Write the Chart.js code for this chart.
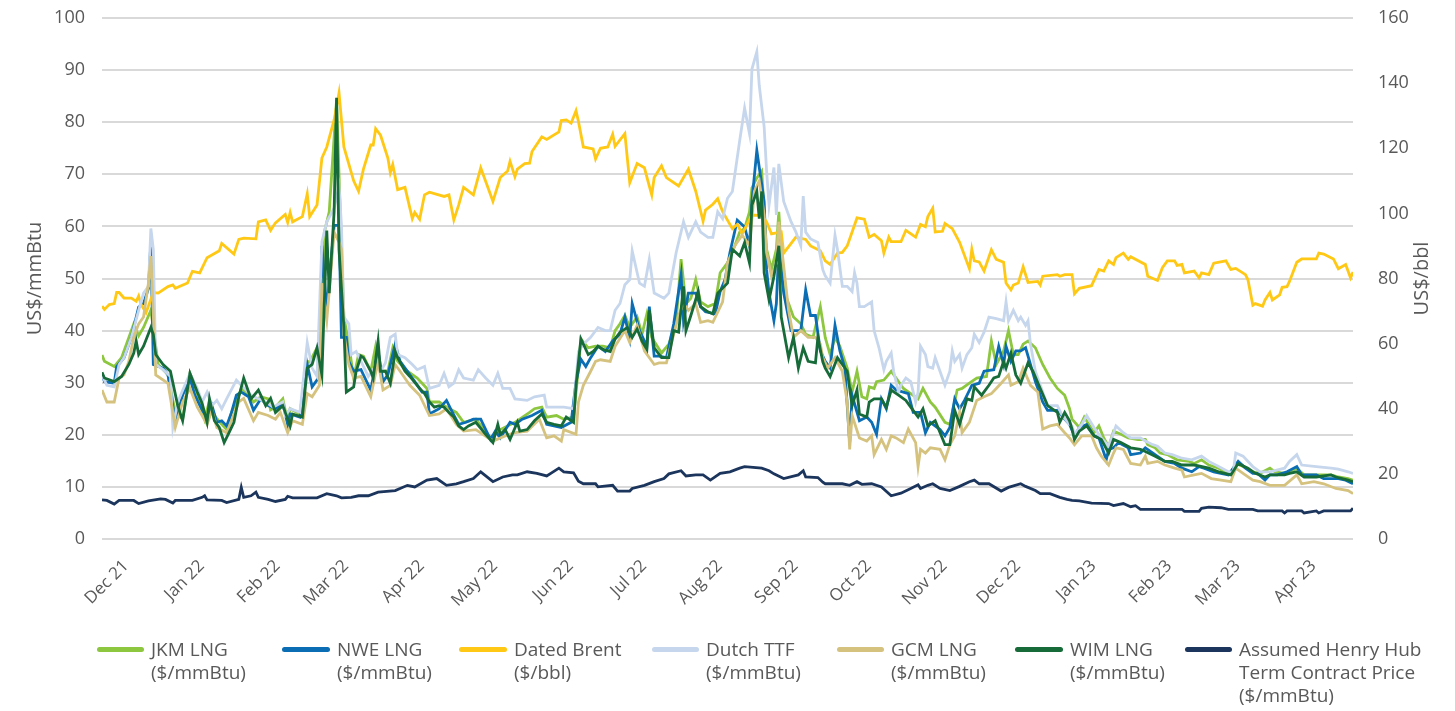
<!DOCTYPE html>
<html><head><meta charset="utf-8">
<script src="https://cdn.jsdelivr.net/npm/chart.js@4.4.1/dist/chart.umd.min.js"></script>
<style>
html,body{margin:0;padding:0;background:#fff;}
#wrap{position:relative;width:1455px;height:711px;overflow:hidden;font-family:"Open Sans",sans-serif;}
canvas{position:absolute;left:0;top:0;}
.lg{position:absolute;color:#595959;font-size:19px;line-height:23px;white-space:nowrap;}
.sw{position:absolute;height:5px;border-radius:3px;}
</style></head><body>
<div id="wrap"><canvas id="c" width="1455" height="711"></canvas><div id="legend"></div></div>
<script>
// ---- x axis: days since 1 Dec 2021; tick labels at month starts ----
const monthDays = [0,31,62,90,121,151,182,212,243,274,304,335,365,396,427,455,486];
const monthLabels = ['Dec 21','Jan 22','Feb 22','Mar 22','Apr 22','May 22','Jun 22','Jul 22','Aug 22','Sep 22','Oct 22','Nov 22','Dec 22','Jan 23','Feb 23','Mar 23','Apr 23'];
const lastDay = 512;

// ---- series: [day, value] ----
const jkm = [[0,35.3],[1,34.1],[5,33.1],[8,34.8],[11,38.7],[13,41.3],[15,39],[17,40.6],[20,43.9],[23,33.5],[27,31.5],[30,24.3],[33,23],[36,31.8],[38,29.5],[40,26.3],[42,23],[44,26.5],[46,23.7],[49,22],[51,21],[53,24.3],[55,26.3],[57,28.9],[60,27.6],[62,26.3],[65,27.3],[68,26.9],[69,24.8],[71,25.3],[74,26.9],[76,22.4],[77,25],[81,24],[84,34.1],[85,34],[88,36.7],[89,31.5],[91,58.9],[93,62.8],[96,84.3],[97,70],[99,42.6],[101,37.4],[103,30.9],[105,35.4],[107,35.1],[110,32.2],[112,37],[114,32.2],[117,32.2],[119,36.7],[121,34.1],[125,32.2],[129,30.9],[133,28.9],[134,26.3],[138,26.3],[141,25.3],[145,24.3],[148,22.4],[153,23],[159,19.4],[163,21],[169,22.4],[175,24.3],[177,25],[180,25.3],[182,23.4],[186,23.7],[189,23],[193,23.4],[195,32.8],[196,38.4],[199,36.7],[202,37],[205,37],[208,36.7],[210,40],[212,41.3],[214,42.9],[216,40.6],[219,42.6],[221,39.3],[223,43.2],[225,38.7],[229,35.7],[232,37.4],[235,41.9],[237,53.7],[239,45.2],[241,46.2],[243,49.8],[245,45.5],[248,44.6],[251,45.2],[253,51.1],[256,53],[259,56.3],[261,58.9],[263,59.6],[265,62.8],[266,67.4],[268,69.3],[270,70.6],[272,55.6],[274,51.7],[276,55.6],[277,62.8],[279,47.8],[283,42.6],[286,41.3],[288,39.3],[291,38.7],[294,44.6],[296,38.7],[298,35.4],[300,38.7],[302,37],[305,32.8],[307,28.2],[309,32.2],[311,27.3],[313,26.9],[314,29.2],[316,28.9],[317,30.2],[320,30.5],[323,32.2],[325,30.9],[328,28.9],[331,27.9],[334,26.9],[336,28.9],[339,26.3],[341,25.3],[345,22.4],[347,22],[348,24.3],[350,28.6],[352,28.9],[355,29.9],[358,30.9],[362,31.2],[364,38],[366,33.5],[369,36.1],[371,40],[373,35.4],[375,35.4],[377,37.4],[379,38],[382,36.7],[385,33.5],[388,30.9],[391,28.9],[394,27.6],[396,25],[397,23],[400,21.4],[402,23.4],[406,20.4],[408,21.7],[410,19.4],[412,17.7],[414,20.7],[417,20.1],[420,19.4],[424,19.1],[427,19.1],[428,18.1],[431,17.5],[433,16.5],[436,16.2],[440,15.2],[445,14.9],[447,14.5],[450,15.2],[453,14.2],[457,13.6],[459,12.9],[462,12.6],[464,14.5],[467,13.9],[471,12.9],[474,12.6],[478,13.6],[480,12.9],[484,12.6],[486,12.9],[489,13.6],[492,12.3],[497,12.3],[503,12.3],[506,11.9],[510,11.6],[512,11.3]];

const nwe = [[0,31.8],[1,30.2],[5,29.9],[6,33.1],[9,34.8],[12,38.7],[15,44.5],[17,45.2],[19,48.1],[20,57],[21,33.5],[25,32.8],[27,31.5],[30,22.4],[33,27.6],[36,30.9],[38,27.6],[41,24.7],[43,23.4],[45,25.6],[47,22.4],[49,22.7],[51,21.7],[53,24.3],[55,27.6],[57,28.2],[60,27.3],[62,24.7],[65,26.9],[68,25.6],[71,25],[74,26],[76,22],[77,24],[81,23.4],[84,33.5],[86,29.2],[89,31.2],[90,56.3],[92,43.9],[95,60.2],[97,60.2],[98,38.7],[100,38.7],[101,34.1],[103,32.2],[106,32.5],[107,31.5],[110,28.6],[113,36],[115,30.2],[117,31.5],[120,37.4],[122,34.1],[125,32.2],[128,30.2],[131,28.2],[133,28.2],[134,24],[138,25],[141,26.6],[143,24.7],[146,22],[149,22.4],[152,23],[155,23],[159,19.1],[161,20.7],[163,19.4],[167,22.4],[169,22],[172,23],[176,23.7],[180,24.7],[182,22],[188,21.4],[192,22.4],[194,30.2],[196,34.5],[198,33.1],[200,34.8],[203,37],[206,36],[209,38],[212,39.3],[214,42.6],[216,38.5],[217,45.2],[220,40],[223,37],[224,44.6],[226,35.1],[228,35.1],[231,34.8],[234,41.3],[237,50.7],[238,41.9],[240,47.2],[243,47.2],[245,44.6],[247,43.6],[251,43.2],[253,47.5],[255,49.8],[257,55],[260,61.2],[263,59.9],[265,56.3],[266,64.8],[268,74.6],[269,71.3],[271,64.8],[272,51.7],[273,47.2],[275,41.9],[276,45.2],[277,55.6],[279,47.2],[282,40],[284,40],[286,40],[288,47.8],[290,42.9],[292,42.9],[294,36.1],[296,34.1],[298,32.8],[300,41],[302,36.1],[304,32.8],[306,18.5],[307,27.6],[310,22.7],[313,23.4],[315,22.4],[317,20.1],[319,26.9],[321,25],[323,29.5],[325,28.6],[328,28.2],[330,27.9],[332,24.3],[335,24.3],[337,20.4],[339,22.4],[343,21],[345,19.8],[347,21.4],[349,26.9],[351,25],[353,26.6],[356,29.5],[359,29.9],[361,32.2],[365,32.5],[367,37],[369,33.5],[370,37],[372,34.1],[374,36.1],[376,36.1],[378,36.7],[380,33.5],[382,30.2],[385,26.3],[387,24.7],[391,24.7],[394,23],[396,22],[398,19.8],[400,21.4],[403,22],[406,19.8],[408,19.4],[411,15.2],[412,17.2],[414,17.5],[416,18.5],[420,17.5],[421,16.2],[425,16.5],[427,17.5],[431,16.2],[435,14.9],[439,14.5],[442,13.6],[446,12.9],[449,13.9],[451,13.6],[455,12.9],[461,12.3],[465,14.9],[468,13.6],[471,12.6],[473,12.6],[476,11.3],[478,12.3],[481,12.3],[485,12.9],[489,13.9],[491,12.3],[497,12.3],[500,11.6],[506,11.6],[509,11.3],[512,10.6]];

const brent = [[0,71.5],[1,70.5],[3,72],[5,72.3],[6,75.7],[7,75.7],[9,74],[12,74],[14,73],[15,74.6],[16,72],[18,69.5],[21,75.7],[23,75.5],[27,77.5],[29,78],[30,77],[35,78.6],[37,82.2],[40,81.7],[43,86.4],[48,88.5],[49,90.8],[54,87.5],[56,92],[58,92.4],[63,92.2],[64,97.4],[67,98],[69,94.8],[71,97.1],[75,99.7],[76,97.2],[77,100.3],[78,97.4],[82,99],[84,106],[85,99],[88,102.6],[90,117],[92,120.4],[95,128.7],[97,137],[99,120.4],[103,110],[105,106.8],[107,113.6],[110,121],[111,121],[112,126],[114,124],[117,117],[118,112.5],[119,115],[121,107.3],[124,108],[127,98.4],[128,100.3],[130,98.2],[132,105.7],[134,106.5],[140,105.2],[142,105.7],[144,98],[146,102.6],[148,108],[152,105.7],[155,114],[160,103.7],[163,111],[166,113],[167,116],[169,111.3],[170,113.6],[173,115.3],[175,115.4],[176,119],[180,123.5],[182,122.7],[187,125],[188,128.5],[190,128.7],[192,127.7],[194,131.5],[195,128.2],[197,120.4],[201,119.8],[202,116.7],[204,120],[207,120.4],[209,124.3],[210,120.6],[214,124.5],[216,109.4],[219,115.3],[222,114],[224,108.4],[225,105.7],[226,111],[229,114.6],[231,111],[236,108.4],[240,113.6],[243,106.8],[246,97.6],[247,101],[250,102.8],[252,104.5],[254,100.5],[258,95.3],[260,96.6],[262,93.7],[266,99.5],[270,99.3],[272,97.4],[274,93.7],[278,94.3],[279,87.8],[284,92.7],[288,92],[290,90],[294,88.5],[296,85.4],[298,84.3],[301,87.8],[303,88],[305,90],[307,94.3],[309,98.6],[312,98.2],[314,92.7],[316,93.5],[319,91.6],[320,87.8],[322,92.7],[323,91.3],[327,91.3],[329,94.8],[333,92.7],[335,96.6],[337,95.9],[338,99],[340,101.6],[341,94.3],[344,94.5],[345,96.9],[348,95.3],[351,91.1],[355,83],[356,89],[357,85.4],[359,85.1],[361,82.3],[364,88.8],[366,85.9],[369,85],[370,78.6],[372,76.5],[373,78],[375,78.6],[377,83.6],[379,78.8],[383,79.1],[384,78],[385,80.7],[391,81.2],[392,80.7],[394,81.2],[397,81.2],[398,75.3],[400,77],[405,77.8],[408,82.8],[410,82.3],[412,85.4],[414,84.3],[415,86.4],[418,87.8],[420,85.9],[421,86.7],[427,84.3],[428,80.7],[432,79.4],[434,83.3],[436,85.4],[439,85.4],[440,84],[442,84.3],[443,81.7],[447,82.3],[449,80.2],[450,81.7],[453,81.2],[455,84.7],[460,85.4],[462,82.8],[464,83.1],[468,81.2],[469,79.6],[471,71.8],[472,72.3],[475,71.5],[476,73.4],[478,75.7],[479,73.4],[482,75],[483,77.3],[485,77.5],[486,79.1],[489,85],[491,86],[497,86],[498,87.8],[500,87.5],[504,86],[506,83],[509,84.3],[511,80.2],[512,82]];

const ttf = [[0,31.5],[2,29.5],[5,29.2],[7,33.5],[9,34.8],[12,38.7],[15,43.9],[17,47.2],[19,48.5],[20,59.6],[21,55.6],[22,33.5],[25,32.5],[28,31.2],[29,21.4],[31,26.3],[36,31.8],[39,28.9],[41,26.3],[43,28.2],[45,25.6],[47,26.6],[49,25],[51,26.9],[55,30.5],[57,29.5],[61,27.6],[64,26.9],[67,26.3],[70,25.3],[74,26.3],[75,23.7],[77,25],[81,24.3],[84,37.7],[86,32.8],[88,31.2],[90,57],[92,60.9],[95,63.5],[97,67.7],[98,60.2],[99,42.6],[101,41.3],[102,35.4],[104,36],[106,34.1],[109,31.2],[112,33.1],[114,32.2],[116,33.8],[118,38.7],[120,39.3],[121,35.4],[124,34.8],[127,33.5],[129,32.5],[132,33.1],[134,28.9],[138,29.5],[140,31.8],[142,29.2],[144,29.9],[146,32.5],[148,30.9],[152,30.5],[154,32.5],[157,30.9],[160,29.5],[162,31.8],[164,28.9],[167,28.9],[169,26.9],[174,26.6],[177,27.3],[181,27.6],[182,25.3],[186,25.3],[189,25.3],[193,25],[195,36],[197,37.4],[200,38.7],[203,40.6],[206,40],[208,40],[210,43.9],[212,45.2],[214,48.8],[216,49.8],[217,55.3],[220,49.1],[222,48.5],[224,53.7],[226,47.2],[230,46.2],[232,47.2],[235,55],[238,60.9],[240,57.9],[243,60.9],[245,58.9],[248,57.9],[250,57.9],[252,62.8],[254,61.5],[256,65.4],[258,66.7],[261,76.5],[263,82.7],[265,77.8],[266,90.2],[268,93.5],[269,87],[271,79.1],[272,70.6],[273,64.1],[275,71.3],[276,62.2],[277,72],[279,64.8],[282,60.9],[284,58.9],[286,56.3],[287,65.8],[288,58.9],[290,57.6],[293,56.9],[295,51.7],[296,50.5],[298,49.1],[300,58.3],[301,55.6],[303,48.5],[305,48.5],[307,47.5],[308,51.1],[309,49.1],[310,44.6],[312,44.6],[315,45.5],[316,40],[318,36.7],[320,32.5],[321,34.1],[323,35.7],[324,32.2],[326,28.2],[327,29.5],[329,30.9],[331,30.2],[333,26.3],[334,28.2],[335,37],[337,35.4],[338,33.1],[340,32.8],[341,34.8],[345,29.5],[347,32.2],[348,36.1],[349,34.1],[351,35.4],[352,32.8],[354,35.4],[356,36.7],[357,39.3],[359,37.7],[361,39.7],[363,42.6],[366,42.3],[369,41.9],[370,45.5],[371,41.9],[373,43.9],[375,41.9],[376,42.6],[378,41],[379,41.9],[380,37.4],[382,32.2],[385,28.2],[387,25.6],[391,25.6],[393,23.7],[396,22],[397,21.7],[398,20.1],[401,22],[403,23.7],[406,21.4],[409,19.4],[412,17.8],[415,21.7],[418,20.4],[421,19.4],[425,19.4],[427,18.8],[430,18.1],[432,17.8],[435,16.5],[438,16.2],[442,15.5],[446,15.2],[450,15.9],[453,14.9],[457,13.9],[461,12.9],[463,12.9],[464,16.5],[467,15.9],[471,13.9],[474,12.9],[478,12.9],[484,13.6],[486,14.9],[489,16.2],[491,14.2],[497,13.9],[503,13.6],[506,13.4],[510,12.9],[512,12.6]];

const gcm = [[0,28.6],[2,26.3],[5,26.3],[7,30.9],[9,31.5],[11,34.1],[13,38.7],[15,41.3],[17,42.6],[19,49.1],[20,54.3],[22,31.5],[27,29.9],[30,21.4],[33,26.3],[36,28.9],[39,25.3],[43,22],[45,24.7],[47,21.4],[51,20.4],[53,22.7],[56,26.3],[58,27],[62,22.7],[64,24.3],[68,23.7],[71,23],[73,24.3],[76,20.4],[78,22.7],[82,22],[84,27.9],[86,27.3],[89,29.5],[90,49.1],[92,42],[95,58.9],[97,57],[98,55.6],[99,39.3],[101,33.5],[103,30.9],[106,31.2],[110,27.3],[113,34.1],[115,28.6],[118,29.5],[120,33.5],[122,32.2],[126,29.5],[130,27.6],[134,23.7],[138,24],[141,25],[145,22],[148,20.7],[153,21],[160,18.8],[165,19.8],[169,20.4],[174,20.7],[179,23],[182,19.4],[185,19.8],[188,18.8],[189,21],[194,20.1],[195,26.3],[197,29.5],[200,32.2],[202,34.1],[204,34.4],[208,34.1],[210,37],[214,40],[216,37.7],[219,41],[222,36.1],[226,33.5],[228,33.8],[231,33.8],[234,39.3],[236,42.9],[238,45.2],[240,43.9],[243,45.2],[245,41.6],[248,41.9],[250,41.6],[254,45.5],[256,53],[259,56.3],[262,58.3],[265,56.3],[267,66.7],[269,68.7],[271,62.2],[272,55],[274,50.4],[276,53],[277,60.9],[281,43.9],[283,38.7],[286,40],[289,38.7],[292,38.7],[294,37.4],[295,34.8],[297,32.8],[300,34.8],[303,32.2],[305,26.3],[306,17.2],[307,23.7],[310,19.4],[313,18.8],[315,19.8],[316,16.2],[319,19.1],[321,17.2],[323,19.8],[325,19.4],[328,18.5],[330,21.1],[333,18.5],[334,13.9],[335,17.2],[337,16.5],[339,17.5],[343,17.2],[345,15.2],[347,18.1],[349,19.8],[351,24.3],[352,20.4],[355,22.4],[358,26.6],[361,27.3],[364,27.9],[366,28.9],[368,29.9],[371,31.5],[372,29.5],[375,30.2],[377,32.8],[380,29.5],[383,28.2],[385,21.1],[388,21.7],[391,22],[394,20.4],[396,19.4],[398,18.1],[401,19.8],[405,19.8],[407,17.5],[409,15.9],[412,14.2],[414,16.5],[415,17.5],[418,17.2],[421,14.5],[425,14.2],[427,15.9],[428,14.5],[432,14.9],[435,14.2],[439,13.6],[442,13.2],[443,11.9],[447,12.3],[450,12.6],[454,11.6],[458,11.3],[462,11],[464,13.6],[467,12.6],[471,11.3],[474,11],[478,10.3],[484,10.3],[489,12.3],[491,10.6],[496,11],[500,10.6],[505,9.7],[510,9.3],[512,8.7]];

const wim = [[0,32],[1,30.9],[5,30.2],[8,31.2],[11,33.5],[13,35.7],[14,38],[15,35.4],[17,37],[20,40.6],[21,39.3],[22,35.4],[25,33.5],[28,32.2],[31,25.6],[33,22.7],[36,31.8],[39,28.2],[41,26],[43,22.4],[44,26.9],[46,22.7],[48,21.4],[50,18.5],[52,20.4],[54,22.4],[56,27.3],[58,30.9],[61,26.9],[64,28.6],[67,25.6],[69,27],[71,24.3],[74,25.6],[77,21.7],[78,24],[82,23.4],[84,32.8],[86,33.5],[88,36.7],[90,31.5],[92,59.2],[93,47.2],[95,62.8],[96,84.7],[97,55.6],[99,40.6],[100,28.2],[103,29.2],[104,32.2],[106,35.1],[107,34.8],[110,32.2],[111,30.9],[113,38],[114,32.2],[116,32.2],[118,29.9],[120,36],[121,34.8],[124,32.2],[126,31.2],[130,28.9],[132,27.9],[134,26.3],[136,25.3],[138,25.6],[140,25.3],[142,24.3],[144,23.4],[146,21.7],[148,21],[150,21.7],[153,22.4],[157,20.1],[160,18.5],[162,22],[163,20.1],[165,21],[167,19.1],[170,22.4],[171,20.7],[174,21],[177,22.7],[180,24],[182,22.4],[185,22],[188,21.7],[190,23.4],[193,22.4],[194,29.5],[196,38.4],[199,35.4],[201,36],[203,37],[205,36.4],[208,36],[210,38.4],[212,39.7],[215,40.6],[217,38.7],[219,40.3],[221,38],[223,36.4],[224,43.9],[226,36.7],[229,34.8],[232,34.8],[234,40],[236,39.7],[238,48.5],[239,40],[241,42.9],[244,47.5],[245,44.6],[248,43.6],[250,43.2],[252,47.2],[256,49.1],[258,55.6],[261,54.3],[263,56.9],[265,53],[266,64.1],[268,66.7],[269,61.5],[270,66.7],[271,51.1],[273,45.9],[275,50.4],[277,56.3],[278,42.6],[281,34.8],[283,38.7],[285,32.8],[287,36.7],[289,34.1],[292,33.8],[293,38.7],[295,34],[296,32.8],[298,31.2],[301,34.8],[303,33.5],[305,32.2],[307,25.6],[309,28.6],[310,24],[313,23.4],[314,26.3],[316,26.9],[319,26.9],[321,25.3],[323,28.6],[326,27.6],[329,26.6],[331,25.3],[334,23.4],[336,25],[338,21.7],[341,22.7],[345,18.1],[347,18.1],[349,24.7],[351,22],[354,26.9],[356,26.6],[357,29.2],[360,27.6],[363,29.5],[365,30.9],[367,31.2],[369,34.1],[370,32.8],[372,35.7],[374,31.5],[376,29.9],[379,33.8],[381,32.2],[384,28.9],[387,25.6],[391,24.3],[392,22.4],[394,24.3],[396,22.7],[397,21.1],[398,19.1],[400,20.7],[403,21.7],[406,19.8],[409,19.1],[412,16.5],[414,19.1],[417,18.5],[421,17.5],[425,17.2],[427,16.8],[431,15.9],[435,14.9],[438,14.9],[442,14.2],[447,14.2],[453,13.6],[457,12.9],[462,12.3],[465,14.5],[469,13.6],[472,12.6],[476,11.9],[478,12.3],[484,12.3],[486,12.6],[489,12.9],[492,11.9],[497,11.9],[503,12.3],[505,11.9],[510,11.3],[512,11]];

const henryHub = [[0,7.5],[2,7.4],[5,6.7],[7,7.4],[13,7.4],[15,6.8],[19,7.3],[24,7.7],[26,7.6],[29,6.9],[30,7.4],[37,7.4],[41,8],[42,8.3],[43,7.5],[49,7.4],[51,7],[56,7.6],[57,9.9],[58,8],[61,8.3],[63,9],[64,8],[68,7.6],[71,7.2],[75,7.6],[76,8.2],[78,7.9],[88,7.9],[92,8.7],[96,8.3],[98,7.9],[102,8],[105,8.3],[109,8.3],[113,9],[120,9.3],[125,10.3],[128,10],[133,11.3],[137,11.6],[141,10.3],[145,10.6],[148,11],[152,11.6],[155,12.9],[160,11],[164,11.9],[168,12.3],[170,12.3],[174,12.9],[178,12.6],[182,12.1],[184,12.7],[187,13.6],[189,12.9],[193,12.7],[195,11.1],[197,10.6],[202,10.6],[203,10],[209,10.3],[211,9.2],[216,9.2],[217,9.7],[222,10.3],[226,11],[230,11.6],[232,12.5],[237,13.1],[239,12.1],[243,12.3],[246,12.3],[249,11.3],[253,12.6],[257,12.9],[261,13.6],[263,13.9],[270,13.6],[273,13.1],[275,12.5],[279,11.6],[285,12.3],[287,13.1],[288,11.9],[293,11.8],[295,10.9],[296,10.6],[303,10.6],[306,10.3],[309,11],[311,10.5],[315,10.6],[319,10],[323,8.3],[327,8.8],[331,9.7],[334,10.4],[335,9.7],[338,10.3],[340,10.6],[343,9.7],[347,9.3],[351,10.1],[355,11],[357,11.3],[359,10.6],[363,10.6],[368,9.2],[371,9.9],[376,10.6],[378,10.1],[382,9.3],[384,8.7],[388,8.7],[392,8],[395,7.6],[397,7.4],[400,7.3],[405,6.9],[412,6.8],[414,6.4],[418,6.8],[421,6.2],[423,6.4],[425,5.7],[442,5.7],[443,5.3],[449,5.3],[450,5.9],[453,6.1],[458,6],[461,5.7],[471,5.7],[473,5.4],[483,5.4],[484,5],[485,5.4],[491,5.4],[492,5],[497,5.4],[498,5],[500,5.4],[511,5.4],[512,5.9]];

const seriesNames = [['JKM LNG','($/mmBtu)'],['NWE LNG','($/mmBtu)'],['Dated Brent','($/bbl)'],['Dutch TTF','($/mmBtu)'],['GCM LNG','($/mmBtu)'],['WIM LNG','($/mmBtu)'],['Assumed Henry Hub','Term Contract Price','($/mmBtu)']];
const seriesColors = ['#8DC63F','#0B6DB3','#FFC814','#C6D6EC','#D5C27E','#166B39','#1B355C'];
const leftTitle = 'US$/mmBtu';
const rightTitle = 'US$/bbl';

// ---- build chart ----
const allSeries = [jkm, nwe, brent, ttf, gcm, wim, henryHub];
const axisOf = ['y','y','y2','y','y','y','y'];
const drawOrder = [7,6,5,4,3,2,1];
const datasets = allSeries.map((s, i) => ({
  label: seriesNames[i].join(' '),
  data: s.map(p => ({x: p[0], y: p[1]})),
  borderColor: seriesColors[i],
  backgroundColor: seriesColors[i],
  borderWidth: 2.8,
  pointRadius: 0,
  tension: 0,
  yAxisID: axisOf[i],
  order: drawOrder[i]
}));

const tickFont = {family: 'Open Sans', size: 18};
const rightTitlePlugin = {
  id: 'rightTitle',
  afterDraw(chart) {
    const {ctx, chartArea} = chart;
    ctx.save();
    ctx.fillStyle = '#595959';
    ctx.font = '20px "Open Sans"';
    ctx.textAlign = 'center';
    ctx.textBaseline = 'middle';
    ctx.translate(1422, (chartArea.top + chartArea.bottom) / 2);
    ctx.rotate(-Math.PI / 2);
    ctx.fillText(rightTitle, 0, 0);
    ctx.restore();
  }
};
const fixV = (w) => (s) => { s.width = w; s.paddingTop = 18; s.paddingBottom = 0; };

new Chart(document.getElementById('c'), {
  type: 'line',
  data: {datasets},
  plugins: [rightTitlePlugin],
  options: {
    responsive: false,
    animation: false,
    devicePixelRatio: 1,
    layout: {padding: 0},
    plugins: {legend: {display: false}, tooltip: {enabled: false}},
    scales: {
      x: {
        type: 'linear', min: 0, max: lastDay,
        grid: {display: false}, border: {display: false},
        afterFit: s => { s.height = 172; s.paddingLeft = 0; s.paddingRight = 0; },
        afterBuildTicks: s => { s.ticks = monthDays.map(v => ({value: v})); },
        ticks: {
          autoSkip: false, maxRotation: 45, minRotation: 45, padding: 9, labelOffset: 24,
          color: '#595959', font: {family: 'Open Sans', size: 17},
          callback: (v, i) => monthLabels[i]
        }
      },
      y: {
        position: 'left', min: 0, max: 100,
        ticks: {stepSize: 10, padding: 17, color: '#595959', font: tickFont},
        grid: {color: '#d9d9d9', lineWidth: 2, drawTicks: false},
        border: {display: false},
        title: {display: true, text: leftTitle, color: '#595959', font: {family: 'Open Sans', size: 20}, padding: {top: 23, bottom: 0}},
        afterFit: fixV(102)
      },
      y2: {
        position: 'right', min: 0, max: 160,
        ticks: {stepSize: 20, padding: 25, color: '#595959', font: tickFont},
        grid: {display: false, drawTicks: false},
        border: {display: false},
        afterFit: fixV(102)
      }
    }
  }
});

// ---- HTML legend ----
const legendX = [[97,151],[282,337],[459,514],[652,706],[837,891],[1015,1070],[1185,1239]];
const lg = document.getElementById('legend');
seriesNames.forEach((names, i) => {
  const sw = document.createElement('div');
  sw.className = 'sw';
  sw.style.left = legendX[i][0] + 'px';
  sw.style.top = '647px';
  sw.style.width = (legendX[i][1] - legendX[i][0] - 7) + 'px';
  sw.style.background = seriesColors[i];
  lg.appendChild(sw);
  const t = document.createElement('div');
  t.className = 'lg';
  t.style.left = legendX[i][1] + 'px';
  t.style.top = '638px';
  t.innerHTML = names.join('<br>');
  lg.appendChild(t);
});
</script>
</body></html>
